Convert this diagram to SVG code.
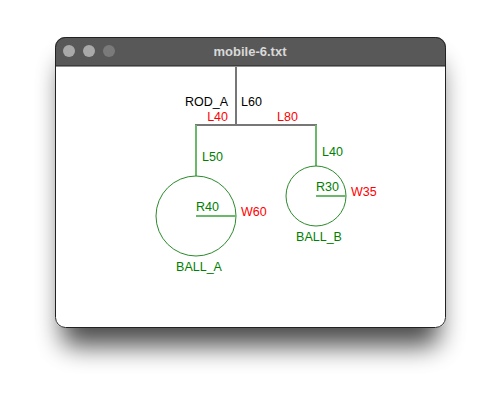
<svg xmlns="http://www.w3.org/2000/svg" width="502" height="402" viewBox="0 0 502 402">
<defs>
<filter id="sh" x="-30%" y="-30%" width="160%" height="170%">
<feGaussianBlur stdDeviation="13"/>
</filter>
<clipPath id="win"><rect x="55" y="37" width="391" height="291" rx="10"/></clipPath>
<style>
text{font-family:"Liberation Sans",Arial,sans-serif;font-size:12.5px}
.g{fill:#008000}
.r{fill:#ff0000}
.k{fill:#000}
.rod{stroke:#777;stroke-width:2;fill:none}
.gl{stroke:#6bb86b;stroke-width:2;fill:none}
.ball{stroke:#2a8a2a;stroke-width:1;fill:none}
</style>
</defs>
<rect width="502" height="402" fill="#fff"/>
<rect x="62" y="62" width="377" height="284" rx="10" fill="#000" opacity="0.7" filter="url(#sh)"/>
<g clip-path="url(#win)">
<rect x="55" y="37" width="391" height="291" fill="#fff"/>
<rect x="55" y="37" width="391" height="29" fill="#585858"/>
</g>
<rect x="55.5" y="37.5" width="390" height="290" rx="10" fill="none" stroke="#222" stroke-width="1"/>
<line x1="55" y1="66" x2="446" y2="66" stroke="#222" stroke-width="1"/>
<circle cx="69" cy="51" r="6" fill="#a9a9a9"/>
<circle cx="89" cy="51" r="6" fill="#a9a9a9"/>
<circle cx="109" cy="51" r="6" fill="#7a7a7a"/>
<text x="250" y="56" text-anchor="middle" style="font-weight:bold;font-size:13px" fill="#d8d8d8">mobile-6.txt</text>
<g id="connectors">
<line class="rod" x1="236" y1="67" x2="236" y2="125"/>
<line class="rod" x1="195" y1="125" x2="317" y2="125"/>
<line class="gl" x1="196" y1="125" x2="196" y2="176"/>
<line class="gl" x1="316" y1="125" x2="316" y2="166"/>
</g>
<g id="ROD_A">
<text class="k" x="228" y="106" text-anchor="end">ROD_A</text>
<text class="k" x="241" y="106">L60</text>
<text class="r" x="228" y="121" text-anchor="end">L40</text>
<text class="r" x="277" y="121">L80</text>
<text class="g" x="202" y="161">L50</text>
<text class="g" x="322" y="156">L40</text>
</g>
<g id="BALL_A">
<circle class="ball" cx="196" cy="216" r="40"/>
<line class="gl" x1="196" y1="216" x2="236" y2="216"/>
<text class="g" x="196" y="211">R40</text>
<text class="r" x="241" y="216">W60</text>
<text class="g" x="199" y="271" text-anchor="middle">BALL_A</text>
</g>
<g id="BALL_B">
<circle class="ball" cx="316" cy="196" r="30"/>
<line class="gl" x1="316" y1="196" x2="346" y2="196"/>
<text class="g" x="316" y="191">R30</text>
<text class="r" x="351" y="196">W35</text>
<text class="g" x="319" y="241" text-anchor="middle">BALL_B</text>
</g>
</svg>
